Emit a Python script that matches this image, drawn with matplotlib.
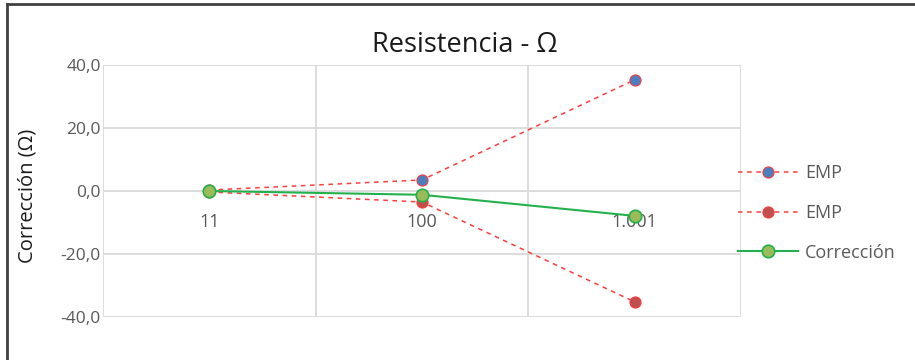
import matplotlib
matplotlib.use("Agg")
import matplotlib.pyplot as plt
from matplotlib.lines import Line2D

categories = ["11", "100", "1.001"]
emp_upper = [0.3, 3.5, 35.3]
emp_lower = [-0.3, -3.5, -35.2]
correccion = [0.0, -1.2, -7.9]
y_ticks = [-40, -20, 0, 20, 40]
y_tick_labels = ["-40,0", "-20,0", "0,0", "20,0", "40,0"]

plt.rcParams['font.family'] = ['Open Sans', 'DejaVu Sans']

W, H = 915, 360
fig = plt.figure(figsize=(W / 100, H / 100), dpi=100)
ax = fig.add_axes([103 / W, 1 - 317 / H, (741 - 103) / W, (317 - 65) / H])

x = list(range(len(categories)))
ax.set_xlim(-0.5, len(categories) - 0.5)
ax.set_ylim(-40, 40)

grid_c = "#d9d9d9"
for yt in y_ticks:
    ax.axhline(yt, color=grid_c, lw=1.3, zorder=0)
for b in [-0.5, 0.5, 1.5, 2.5]:
    ax.axvline(b, color=grid_c, lw=1.3, zorder=0)

for s in ax.spines.values():
    s.set_visible(False)

ax.set_yticks(y_ticks)
ax.set_yticklabels(y_tick_labels, color="#595959", fontsize=12.5)
ax.tick_params(axis="y", length=0, pad=1.5)
ax.set_xticks([])

for xi, lab in zip(x, categories):
    ax.text(xi, -7.0, lab, ha="center", va="top", color="#595959", fontsize=13, zorder=1)

red = "#ff3b3b"
ax.plot(x, emp_upper, ls=(0, (3, 3)), color=red, lw=1.1, marker="o", ms=8,
        mfc="#4a7ebf", mec=red, mew=0.8, zorder=3)
ax.plot(x, emp_lower, ls=(0, (3, 3)), color=red, lw=1.1, marker="o", ms=8,
        mfc="#c0504d", mec=red, mew=0.8, zorder=3)
ax.plot(x, correccion, ls="-", color="#22b14c", lw=1.5, marker="o", ms=9,
        mfc="#9bbb59", mec="#22b14c", mew=1.2, zorder=4)

ax.set_ylabel("Corrección (Ω)", fontsize=14.5, color="#1a1a1a")
ax.yaxis.set_label_coords(-0.102, 0.48)

fig.text(465 / W, 1 - 45 / H, "Resistencia - Ω", ha="center", va="center",
         fontsize=19.5, color="#1a1a1a")

handles = [
    Line2D([], [], ls=(0, (3, 3)), color=red, lw=1.1, marker="o", ms=8,
           mfc="#4a7ebf", mec=red, mew=0.8),
    Line2D([], [], ls=(0, (3, 3)), color=red, lw=1.1, marker="o", ms=8,
           mfc="#c0504d", mec=red, mew=0.8),
    Line2D([], [], ls="-", color="#22b14c", lw=1.5, marker="o", ms=9,
           mfc="#9bbb59", mec="#22b14c", mew=1.2),
]
leg = fig.legend(handles, ["EMP", "EMP", "Corrección"], loc="center left",
                 bbox_to_anchor=(722 / W, 1 - 213 / H), frameon=False,
                 fontsize=13, handlelength=3.3, labelspacing=1.2,
                 handletextpad=0.4, labelcolor="#595959")

# frame edges of the chart area
fig.add_artist(Line2D([7 / W, 7 / W], [0, 1 - 4 / H], transform=fig.transFigure,
                      color="#404040", lw=2))
fig.add_artist(Line2D([7 / W, 1], [1 - 4 / H, 1 - 4 / H], transform=fig.transFigure,
                      color="#404040", lw=2))

fig.savefig("out.png", dpi=100, facecolor="white")
